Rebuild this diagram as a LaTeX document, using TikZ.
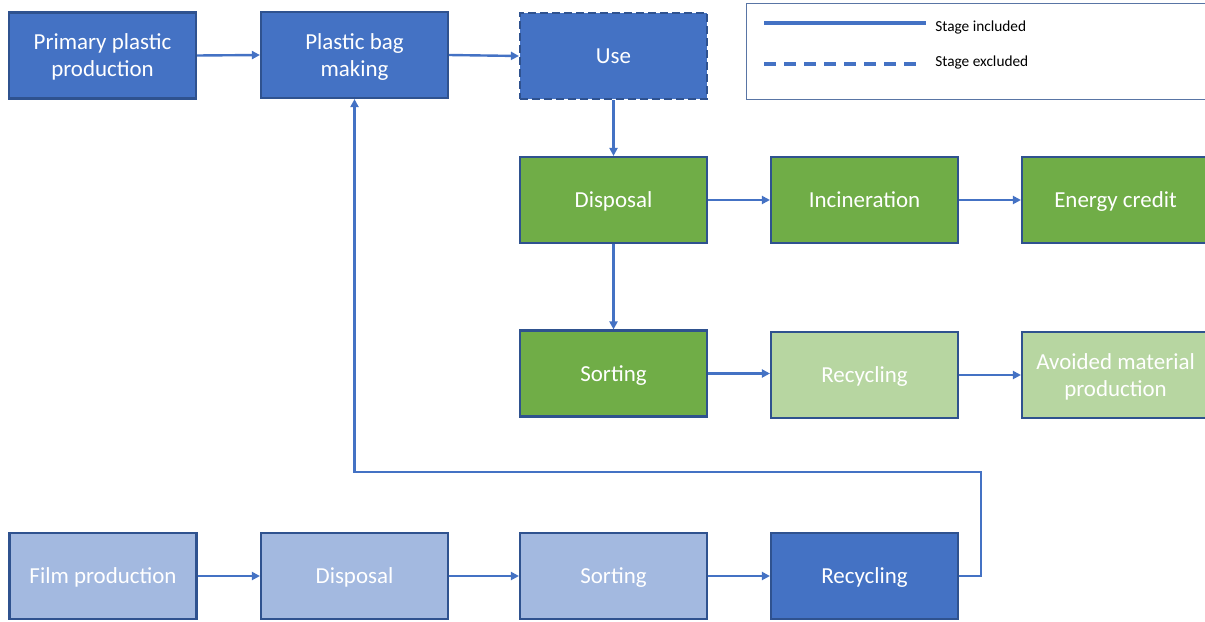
\documentclass[tikz,border=0pt]{standalone}
\usepackage{fontspec}
\setmainfont{Carlito}
\usetikzlibrary{arrows.meta}
\definecolor{dblue}{HTML}{4472C4}
\definecolor{bord}{HTML}{2F528F}
\definecolor{dgreen}{HTML}{70AD47}
\definecolor{lgreen}{HTML}{B7D6A1}
\definecolor{lblue}{HTML}{A3B9E0}
\definecolor{arrc}{HTML}{4472C4}
\tikzset{
  stagebox/.style={draw=bord, line width=1.6pt, minimum width=140.25pt, minimum height=64.5pt,
    text=white, font=\fontsize{17.2}{20.3}\selectfont, align=center, inner sep=1pt, text depth=0pt},
  bluebox/.style={stagebox, fill=dblue},
  greenbox/.style={stagebox, fill=dgreen},
  lgreenbox/.style={stagebox, fill=lgreen},
  lbluebox/.style={stagebox, fill=lblue},
  excluded/.style={dash pattern=on 6pt off 3pt},
  arr/.style={draw=arrc, line width=1.8pt, -{Triangle[length=6pt,width=6pt]}},
  legline/.style={draw=arrc, line width=2.4pt},
  legtext/.style={font=\fontsize{11.5}{13}\selectfont, anchor=west, inner sep=0pt}
}
\begin{document}
\begin{tikzpicture}[x=0.75pt,y=-0.75pt]
\useasboundingbox (0,0) rectangle (1205,621);
% legend
\node[draw=bord!80, line width=0.9pt, minimum width=348pt, minimum height=72pt, anchor=north west, inner sep=0pt] (legend) at (746,3) {};
\coordinate (l1a) at (764,23);
\coordinate (l1b) at (926,23);
\coordinate (l2a) at (764,64);
\coordinate (l2b) at (920,64);
\draw[legline] (l1a) -- (l1b);
\draw[legline, dash pattern=on 9pt off 6pt] (l2a) -- (l2b);
\node[legtext] (t1) at (935,27) {Stage included};
\node[legtext] (t2) at (935,62) {Stage excluded};
% top row
\node[bluebox] (ppp) at (102.5,55.5) {Primary plastic\\production};
\node[bluebox] (pbm) at (354.5,55) {Plastic bag\\making};
\node[bluebox, excluded] (use) at (613.5,56) {Use};
% green rows
\node[greenbox] (disp) at (613.5,200) {Disposal};
\node[greenbox] (inc) at (864.5,200) {Incineration};
\node[greenbox] (ene) at (1115.5,200) {Energy credit};
\node[greenbox] (sort) at (613.5,373.5) {Sorting};
\node[lgreenbox] (rec) at (864.5,375) {Recycling};
\node[lgreenbox] (avo) at (1115.5,375) {Avoided material\\production};
% bottom row
\node[lbluebox] (film) at (103,576) {Film production};
\node[lbluebox] (disp2) at (354.5,576) {Disposal};
\node[lbluebox] (sort2) at (613.5,576) {Sorting};
\node[bluebox] (rec2) at (864.5,576) {Recycling};
% connectors
\draw[arr] (ppp.east) -- (pbm.west);
\draw[arr] (pbm.east) -- (use.west);
\draw[arr] (use.south) -- (disp.north);
\draw[arr] (disp.east) -- (inc.west);
\draw[arr] (inc.east) -- (ene.west);
\draw[arr] (disp.south) -- (sort.north);
\draw[arr] (sort.east) -- (sort.east -| rec.west);
\draw[arr] (rec.east) -- (avo.west);
\draw[arr] (film.east) -- (disp2.west);
\draw[arr] (disp2.east) -- (sort2.west);
\draw[arr] (sort2.east) -- (rec2.west);
\coordinate (loop) at (981,472);
\draw[arr] (rec2.east) -| (loop) -| (pbm.south);
\end{tikzpicture}
\end{document}
